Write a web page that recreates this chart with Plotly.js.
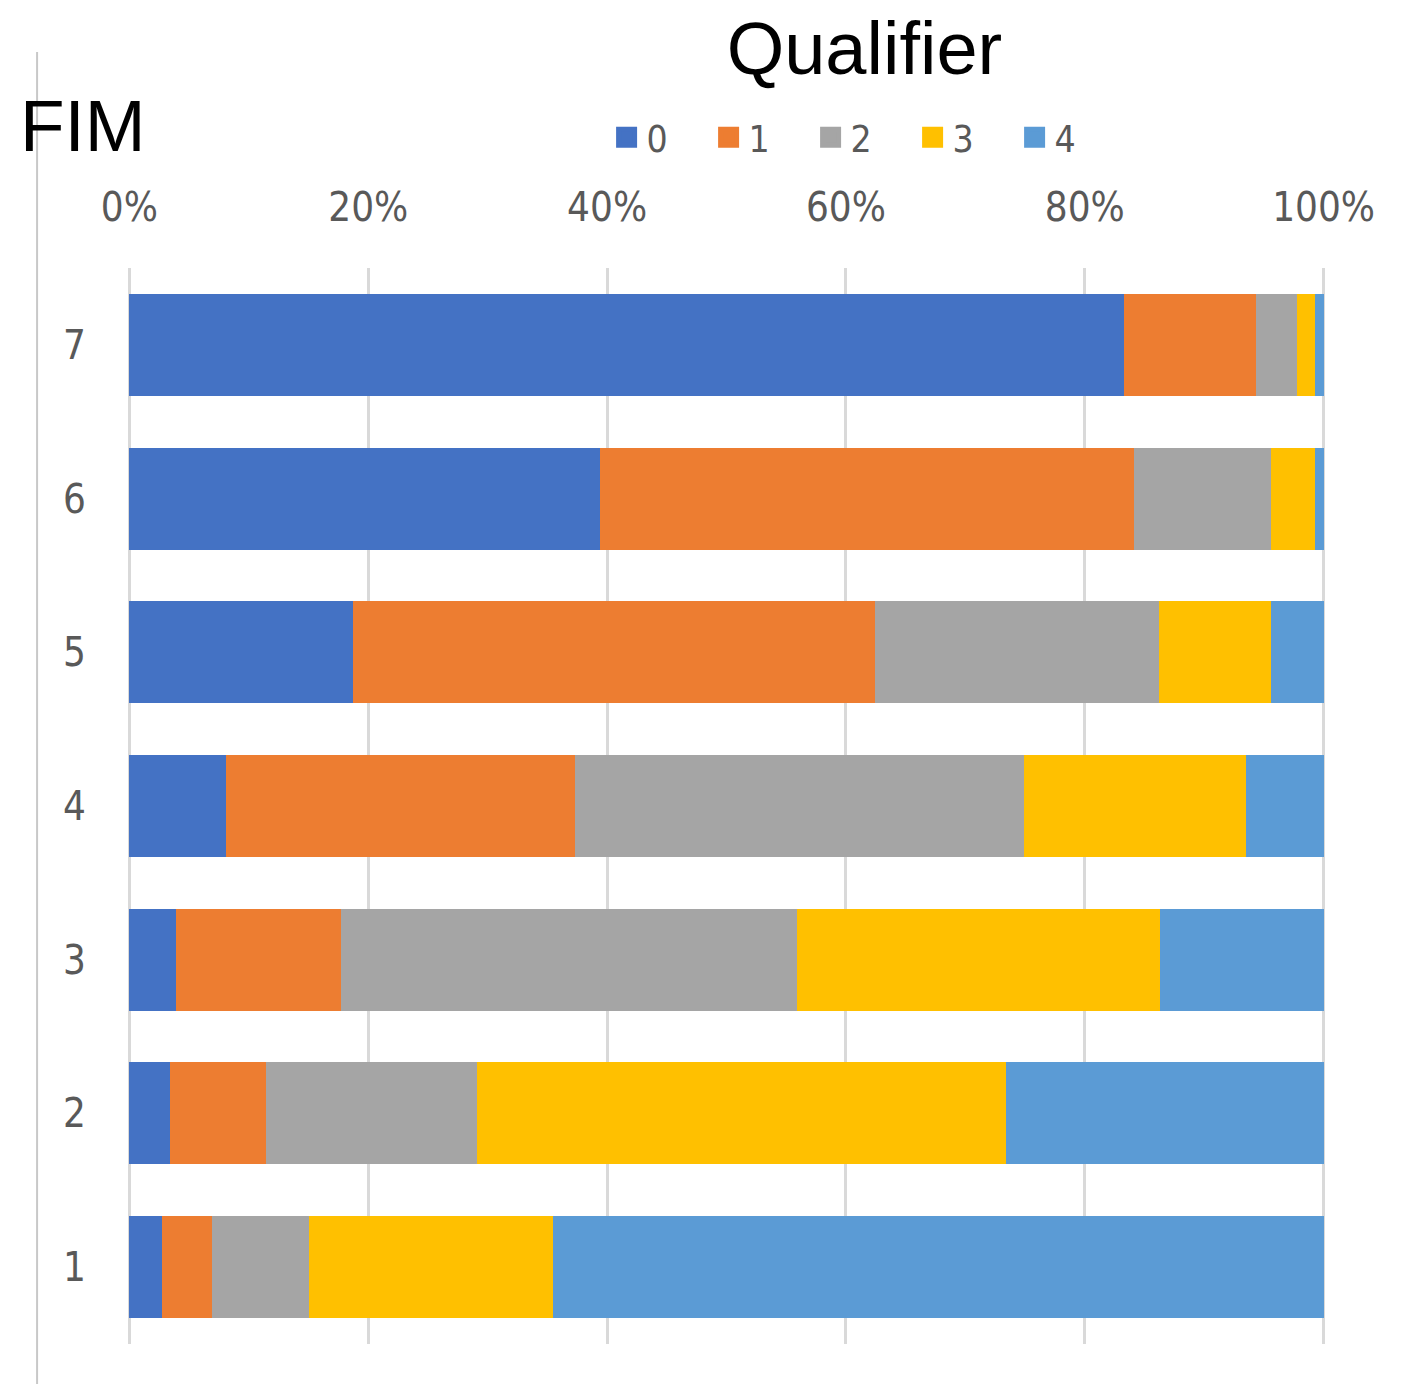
<!DOCTYPE html>
<html>
<head>
<meta charset="utf-8">
<script src="https://cdn.plot.ly/plotly-3.0.1.min.js"></script>
<style>html,body{margin:0;padding:0;background:#fff;}#chart{width:1409px;height:1384px;}</style>
</head>
<body>
<div id="chart"></div>
<script>
const categories = ['1', '2', '3', '4', '5', '6', '7'];
const seriesNames = ['0', '1', '2', '3', '4'];
const q0 = [2.7, 3.4, 3.9, 8.1, 18.7, 39.4, 83.3];
const q1 = [4.2, 8.0, 13.8, 29.2, 43.7, 44.7, 11.0];
const q2 = [8.1, 17.7, 38.2, 37.6, 23.8, 11.5, 3.5];
const q3 = [20.5, 44.3, 30.4, 18.6, 9.4, 3.7, 1.5];
const q4 = [64.5, 26.6, 13.7, 6.5, 4.4, 0.7, 0.7];
const xTicks = [0, 20, 40, 60, 80, 100];
const xTickLabels = ['0%', '20%', '40%', '60%', '80%', '100%'];

const colors = ['#4472C4', '#ED7D31', '#A5A5A5', '#FFC000', '#5B9BD5'];
const series = [q0, q1, q2, q3, q4];

const traces = [];
series.forEach((vals, i) => {
  traces.push({
    type: 'bar', orientation: 'h',
    x: vals, y: categories,
    name: seriesNames[i],
    legendgroup: seriesNames[i],
    showlegend: false,
    marker: {color: colors[i], line: {width: 0}},
    hoverinfo: 'x+name'
  });
});
series.forEach((vals, i) => {
  traces.push({
    type: 'scatter', mode: 'markers',
    x: [null], y: [null],
    name: seriesNames[i],
    legendgroup: seriesNames[i],
    marker: {symbol: 'square', size: 16, color: colors[i], line: {width: 5, color: colors[i]}},
    hoverinfo: 'skip'
  });
});

const tickFont = {family: 'DejaVu Sans Condensed, DejaVu Sans, sans-serif', size: 40, color: '#595959'};

const layout = {
  width: 1409, height: 1384,
  paper_bgcolor: '#ffffff', plot_bgcolor: '#ffffff',
  margin: {l: 127, r: 83, t: 268, b: 40, pad: 0},
  barmode: 'stack',
  bargap: 0.336,
  showlegend: true,
  title: {
    text: 'Qualifier',
    font: {family: 'Liberation Sans, Arial, sans-serif', size: 74, color: '#000000'},
    x: 0.6135, xanchor: 'center', xref: 'container',
    y: 0.965, yanchor: 'middle', yref: 'container'
  },
  legend: {
    orientation: 'h',
    x: 0.400, xanchor: 'left',
    y: 1.121, yanchor: 'middle',
    font: {family: 'DejaVu Sans Condensed, DejaVu Sans, sans-serif', size: 37, color: '#595959'},
    entrywidth: 57, entrywidthmode: 'pixels',
    itemsizing: 'trace',
    bgcolor: 'rgba(0,0,0,0)'
  },
  xaxis: {
    side: 'top',
    range: [-0.2, 100.2],
    tickvals: xTicks,
    ticktext: xTickLabels,
    tickfont: tickFont,
    ticks: '',
    ticklabelstandoff: 38,
    showgrid: true, gridcolor: '#d9d9d9', gridwidth: 3,
    zeroline: false, showline: false,
    fixedrange: true
  },
  yaxis: {
    type: 'category',
    categoryorder: 'array', categoryarray: categories,
    tickfont: tickFont,
    ticks: '',
    ticklabelstandoff: 40,
    showgrid: false, zeroline: false, showline: false,
    fixedrange: true
  },
  annotations: [{
    text: 'FIM', xref: 'paper', yref: 'paper',
    x: -0.091, xanchor: 'left', y: 1.132, yanchor: 'middle',
    showarrow: false,
    font: {family: 'Liberation Sans, Arial, sans-serif', size: 73, color: '#000000'}
  }],
  shapes: [{
    type: 'line', xref: 'paper', yref: 'paper',
    x0: -0.075, x1: -0.075, y0: 1.2007, y1: -0.04,
    line: {color: '#c8c8c8', width: 2}
  }]
};

Plotly.newPlot('chart', traces, layout, {displayModeBar: false, staticPlot: true});
</script>
</body>
</html>
